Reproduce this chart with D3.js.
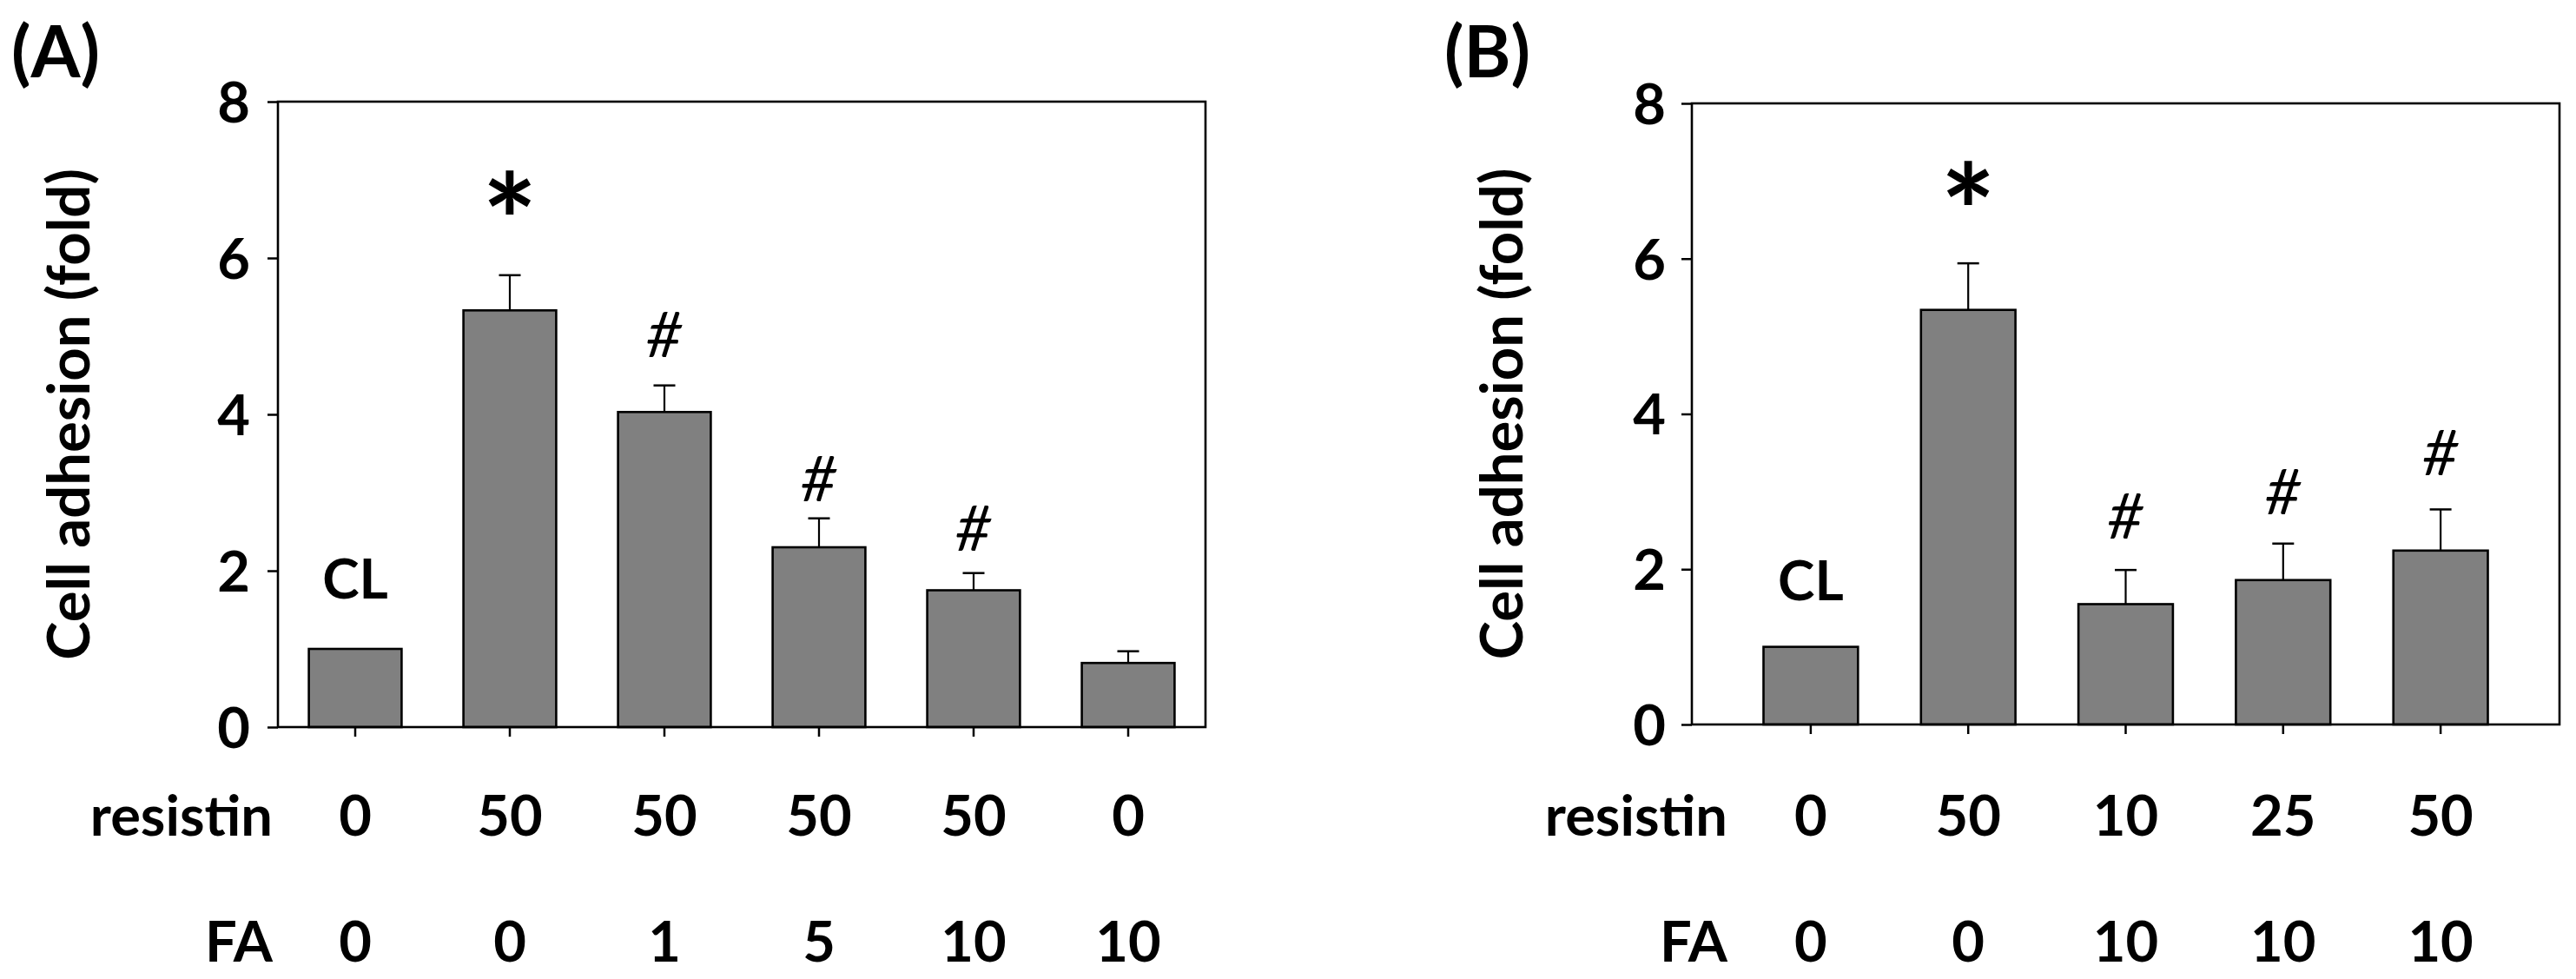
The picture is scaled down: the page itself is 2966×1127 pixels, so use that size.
<!DOCTYPE html>
<html>
<head>
<meta charset="utf-8">
<script src="https://cdn.jsdelivr.net/npm/d3@7"></script>
<style>
  body { margin: 0; background: #fff; }
  text { font-family: Lato, "Open Sans", sans-serif; fill: #000; }
</style>
</head>
<body>
<svg id="chart"></svg>
<script>
var W = 2966, H = 1127;

// panel (A): resistin / FA dose series
var resistinA = [0, 50, 50, 50, 50, 0];
var faA = [0, 0, 1, 5, 10, 10];
var meanA = [1.0, 5.33, 4.03, 2.30, 1.75, 0.82];
var errTopA = [1.0, 5.78, 4.37, 2.67, 1.97, 0.97];
var markA = ["CL", "*", "#", "#", "#", ""];
var markYA = [1.9, 6.5, 5.02, 3.18, 2.54, 0];

// panel (B): resistin dose with FA 10
var resistinB = [0, 50, 10, 25, 50];
var faB = [0, 0, 10, 10, 10];
var meanB = [1.0, 5.34, 1.55, 1.86, 2.24];
var errTopB = [1.0, 5.94, 1.99, 2.33, 2.77];
var markB = ["CL", "*", "#", "#", "#"];
var markYB = [1.86, 6.63, 2.68, 3.0, 3.5];

var yTicks = [0, 2, 4, 6, 8];
var yTitle = "Cell adhesion (fold)";

var svg = d3.select("#chart")
    .attr("width", W)
    .attr("height", H);

function drawPanel(p) {
  var n = p.mean.length;
  var idx = d3.range(n);

  var x = d3.scaleBand()
      .domain(idx)
      .range([p.left, p.right])
      .paddingInner(0.4)
      .paddingOuter(p.padOuter);

  var y = d3.scaleLinear()
      .domain([0, 8])
      .range([p.bottom, p.top]);

  var g = svg.append("g");

  // panel letter
  g.append("text")
      .attr("x", p.letterX)
      .attr("y", 89)
      .style("font-size", "82px")
      .style("font-weight", 700)
      .text(p.letter);

  // y axis ticks + labels
  var yAxis = d3.axisLeft(y)
      .tickValues(yTicks)
      .tickSize(12)
      .tickSizeOuter(0)
      .tickPadding(p.left - p.tickRight - 12);

  var ya = g.append("g")
      .attr("transform", "translate(" + p.left + ",0)")
      .call(yAxis);
  ya.select(".domain").remove();
  ya.selectAll("line").attr("stroke", "#000").attr("stroke-width", 2.5);
  ya.selectAll("text")
      .attr("dy", "0.36em")
      .style("font-family", "Lato, 'Open Sans', sans-serif")
      .style("font-size", "65px")
      .style("font-weight", 700);

  // x axis ticks only
  var xAxis = d3.axisBottom(x)
      .tickSize(11)
      .tickSizeOuter(0)
      .tickFormat("");
  var xa = g.append("g")
      .attr("transform", "translate(0," + p.bottom + ")")
      .call(xAxis);
  xa.select(".domain").remove();
  xa.selectAll("line").attr("stroke", "#000").attr("stroke-width", 2.5);

  // y title
  g.append("text")
      .attr("transform", "translate(" + p.titleX + "," + ((p.top + p.bottom) / 2) + ") rotate(-90)")
      .attr("text-anchor", "middle")
      .attr("dominant-baseline", "central")
      .style("font-size", "67px")
      .style("font-weight", 700)
      .text(yTitle);

  // error bars
  var errIdx = idx.filter(function(i) { return p.errTop[i] > p.mean[i]; });
  var cx = function(i) { return x(i) + x.bandwidth() / 2; };

  g.selectAll(".err")
      .data(errIdx)
      .enter()
      .append("line")
      .attr("x1", cx)
      .attr("x2", cx)
      .attr("y1", function(i) { return y(p.mean[i]); })
      .attr("y2", function(i) { return y(p.errTop[i]); })
      .attr("stroke", "#000")
      .attr("stroke-width", 2.2);

  g.selectAll(".cap")
      .data(errIdx)
      .enter()
      .append("line")
      .attr("x1", function(i) { return cx(i) - 12.5; })
      .attr("x2", function(i) { return cx(i) + 12.5; })
      .attr("y1", function(i) { return y(p.errTop[i]); })
      .attr("y2", function(i) { return y(p.errTop[i]); })
      .attr("stroke", "#000")
      .attr("stroke-width", 2.5);

  // bars
  g.selectAll(".bar")
      .data(idx)
      .enter()
      .append("rect")
      .attr("x", function(i) { return x(i); })
      .attr("y", function(i) { return y(p.mean[i]); })
      .attr("width", x.bandwidth())
      .attr("height", function(i) { return y(0) - y(p.mean[i]); })
      .attr("fill", "#808080")
      .attr("stroke", "#000")
      .attr("stroke-width", 2.6);

  // frame
  g.append("rect")
      .attr("x", p.left)
      .attr("y", p.top)
      .attr("width", p.right - p.left)
      .attr("height", p.bottom - p.top)
      .attr("fill", "none")
      .attr("stroke", "#000")
      .attr("stroke-width", 2.6);

  // significance marks, centred on their y value
  g.selectAll(".mark")
      .data(idx.filter(function(i) { return p.mark[i] !== ""; }))
      .enter()
      .append("text")
      .attr("text-anchor", "middle")
      .style("font-size", function(i) {
        return p.mark[i] === "*" ? "150px" : (p.mark[i] === "#" ? "72px" : "64px");
      })
      .style("font-weight", function(i) { return p.mark[i] === "#" ? 400 : 700; })
      .style("font-style", function(i) { return p.mark[i] === "#" ? "italic" : "normal"; })
      .text(function(i) { return p.mark[i]; })
      .each(function(i) {
        var t = d3.select(this);
        t.attr("x", cx(i)).attr("y", 0);
        var b = this.getBBox();
        var c = b.y + b.height / 2;
        if (p.mark[i] === "CL") c = -0.36 * 64;
        if (p.mark[i] === "#") c = -0.36 * 72;
        t.attr("y", y(p.markY[i]) - c);
      });

  // dose rows
  var rows = [
    { name: "resistin", vals: p.resistin, base: 962 },
    { name: "FA", vals: p.fa, base: 1107 }
  ];
  rows.forEach(function(r) {
    g.append("text")
        .attr("x", p.labelX)
        .attr("y", r.base)
        .attr("text-anchor", "end")
        .style("font-size", "65px")
        .style("font-weight", 700)
        .text(r.name);
    g.selectAll(null)
        .data(idx)
        .enter()
        .append("text")
        .attr("x", cx)
        .attr("y", r.base)
        .attr("text-anchor", "middle")
        .style("font-size", "65px")
        .style("font-weight", 700)
        .text(function(i) { return r.vals[i]; });
  });
}

drawPanel({
  letter: "(A)", letterX: 13,
  left: 320, right: 1388, top: 117, bottom: 837, padOuter: 0.2,
  tickRight: 288, titleX: 77, labelX: 314,
  mean: meanA, errTop: errTopA, mark: markA, markY: markYA,
  resistin: resistinA, fa: faA
});

drawPanel({
  letter: "(B)", letterX: 1663,
  left: 1948, right: 2947, top: 119, bottom: 834, padOuter: 0.455,
  tickRight: 1918, titleX: 1727, labelX: 1989,
  mean: meanB, errTop: errTopB, mark: markB, markY: markYB,
  resistin: resistinB, fa: faB
});
</script>
</body>
</html>
